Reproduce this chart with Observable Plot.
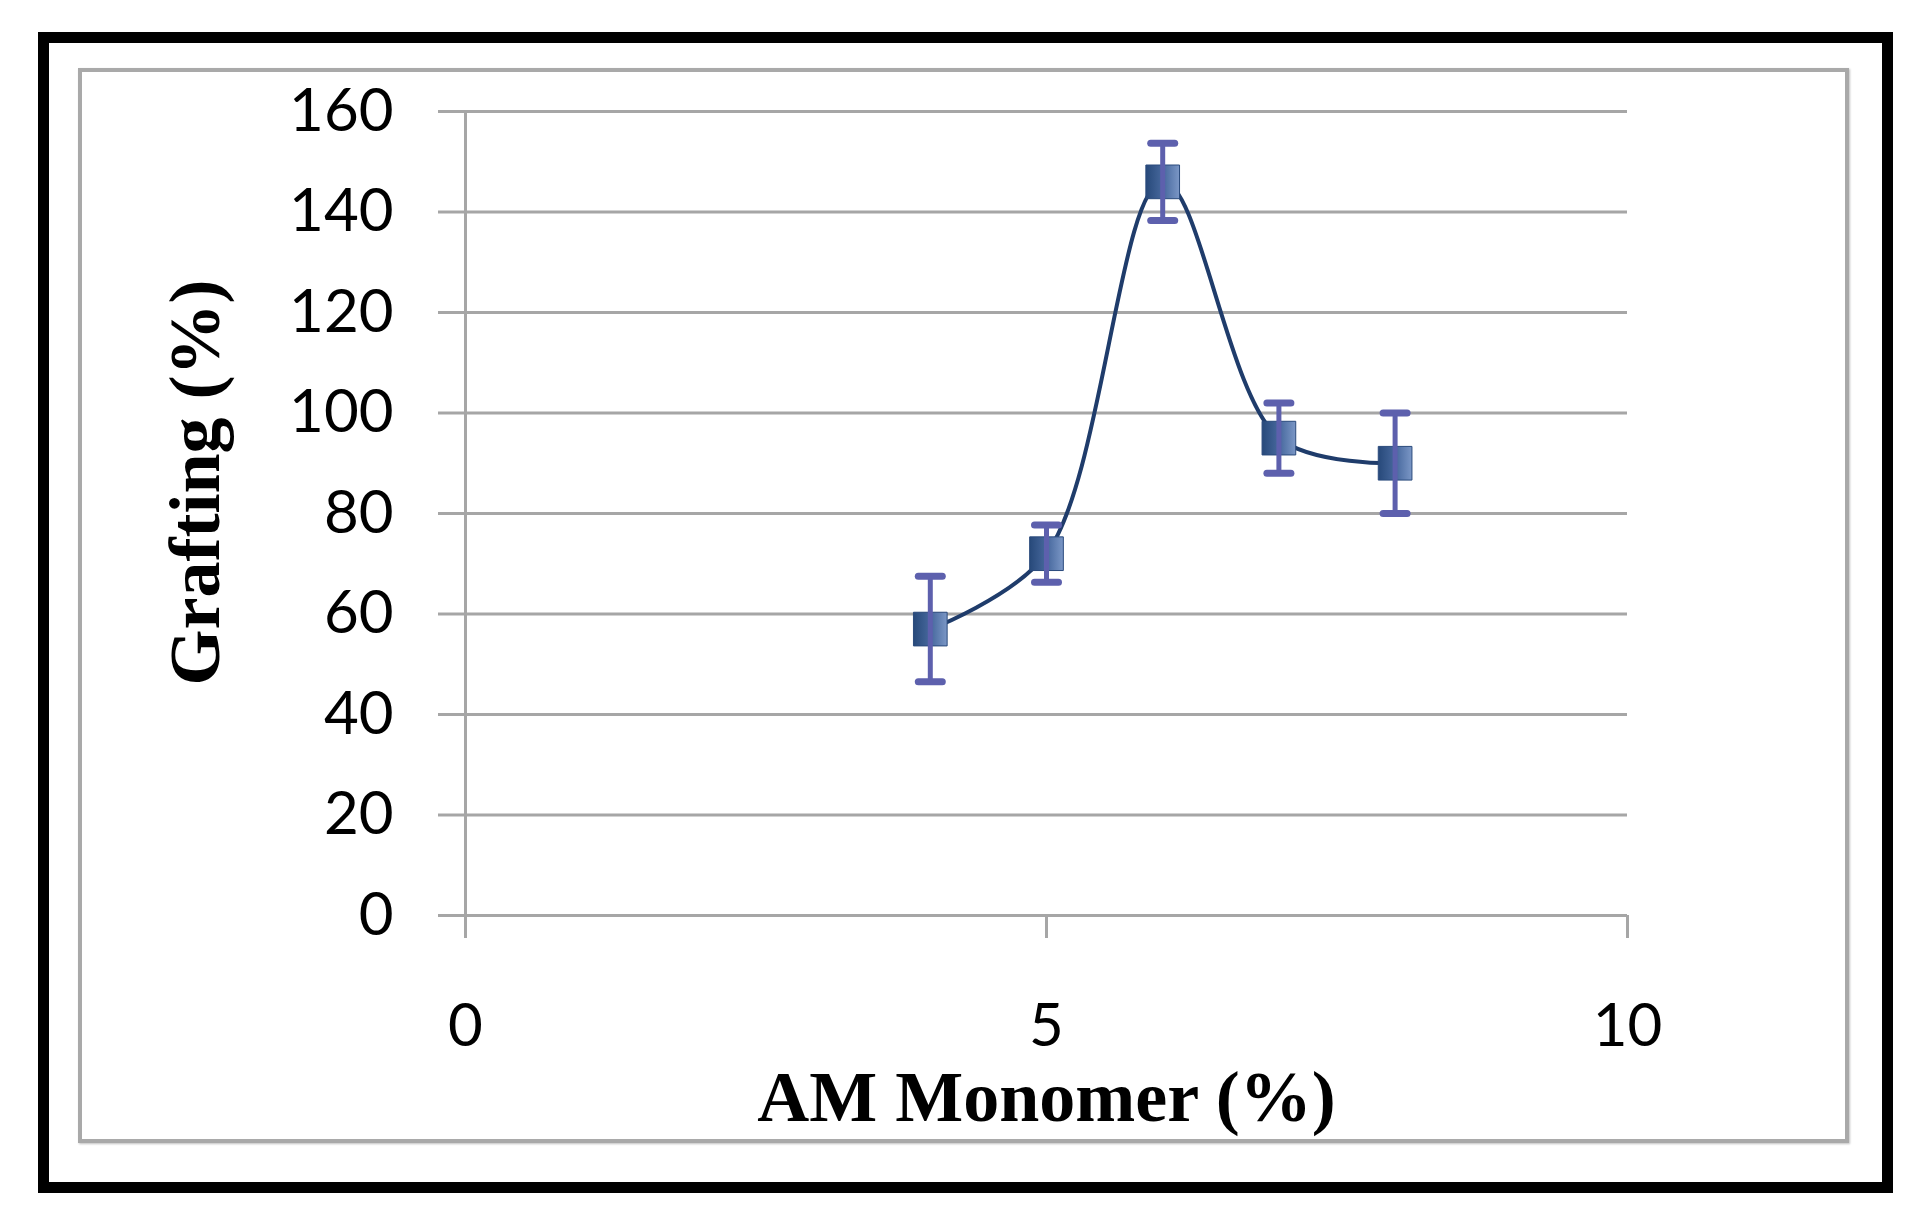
<!DOCTYPE html>
<html><head><meta charset="utf-8">
<script src="https://cdn.jsdelivr.net/npm/d3@7"></script>
<script src="https://cdn.jsdelivr.net/npm/@observablehq/plot@0.6"></script>
<style>
html,body{margin:0;padding:0;background:#fff;}
#wrap{position:relative;width:1920px;height:1224px;overflow:hidden;background:#fff;}
#outer{position:absolute;left:38px;top:32px;width:1855px;height:1161px;border:11px solid #000;box-sizing:border-box;}
#inner{position:absolute;left:78px;top:68px;width:1771px;height:1075px;border:4px solid #a9a9a9;box-sizing:border-box;box-shadow:1px 1px 2px rgba(0,0,0,0.25);}
#chart{position:absolute;left:0;top:0;}
#chart svg{display:block;background:transparent;}
</style></head>
<body><div id="wrap"><div id="outer"></div><div id="inner"></div><div id="chart"></div></div>
<script>
const monomer = [4, 5, 6, 7, 8];
const grafting = [57, 72, 146, 95, 90];
const errorBar = [10.5, 5.7, 7.7, 7, 10];
const xTicks = [0, 5, 10];
const yTicks = [0, 20, 40, 60, 80, 100, 120, 140, 160];
const xLabel = "AM Monomer (%)";
const yLabel = "Grafting (%)";

const rows = monomer.map((m, i) => ({x: m, y: grafting[i], lo: grafting[i] - errorBar[i], hi: grafting[i] + errorBar[i]}));
const cap = {draw(ctx) { ctx.moveTo(-12, 0); ctx.lineTo(12, 0); }};
const gridColor = "#a6a6a6";
const tickFont = "Lato, 'Open Sans', sans-serif";
const labelFont = "'Liberation Serif', 'DejaVu Serif', serif";

const chart = Plot.plot({
  width: 1920,
  height: 1224,
  marginLeft: 465,
  marginRight: 293,
  marginTop: 111,
  marginBottom: 309,
  style: {background: "transparent", color: "#000", overflow: "visible"},
  x: {domain: [0, 10], label: null},
  y: {domain: [0, 160], label: null},
  marks: [
    Plot.gridY(yTicks, {stroke: gridColor, strokeOpacity: 1, strokeWidth: 3}),
    Plot.ruleX([0], {stroke: gridColor, strokeWidth: 3}),
    Plot.axisY(yTicks, {tickSize: 27, tickPadding: 45, tickFormat: "d", stroke: gridColor, strokeWidth: 3, strokeOpacity: 1, fontSize: 60, fontFamily: tickFont, fill: "#000", label: null}),
    Plot.axisX(xTicks, {tickSize: 23, tickPadding: 65, tickFormat: "d", stroke: gridColor, strokeWidth: 3, strokeOpacity: 1, fontSize: 60, fontFamily: tickFont, fill: "#000", label: null}),
    Plot.line(rows, {x: "x", y: "y", curve: "catmull-rom", stroke: "#1f3c6b", strokeWidth: 4}),
    Plot.dot(rows, {x: "x", y: "y", symbol: "square", r: 19, fill: "url(#mk)", stroke: "#2a4a7c", strokeWidth: 1}),
    Plot.ruleX(rows, {x: "x", y1: "lo", y2: "hi", stroke: "#5d60ad", strokeWidth: 5}),
    Plot.dot(rows, {x: "x", y: "hi", symbol: cap, r: 5, fill: "none", stroke: "#5d60ad", strokeWidth: 7, strokeLinecap: "round"}),
    Plot.dot(rows, {x: "x", y: "lo", symbol: cap, r: 5, fill: "none", stroke: "#5d60ad", strokeWidth: 7, strokeLinecap: "round"}),
    Plot.text([xLabel], {frameAnchor: "bottom", dx: 0, dy: 182, lineAnchor: "middle", textAnchor: "middle", fontSize: 72, fontWeight: "bold", fontFamily: labelFont, fill: "#000"}),
    Plot.text([yLabel], {frameAnchor: "left", dx: -270, dy: -31, rotate: -90, lineAnchor: "middle", textAnchor: "middle", fontSize: 72, fontWeight: "bold", fontFamily: labelFont, fill: "#000"})
  ]
});

const ns = "http://www.w3.org/2000/svg";
const defs = document.createElementNS(ns, "defs");
const grad = document.createElementNS(ns, "linearGradient");
grad.setAttribute("id", "mk");
grad.setAttribute("x1", "0"); grad.setAttribute("x2", "1"); grad.setAttribute("y1", "0"); grad.setAttribute("y2", "0");
[["0%", "#27497a"], ["55%", "#4a6ba0"], ["100%", "#7b97c6"]].forEach(([o, c]) => {
  const s = document.createElementNS(ns, "stop");
  s.setAttribute("offset", o); s.setAttribute("stop-color", c);
  grad.appendChild(s);
});
defs.appendChild(grad);
chart.insertBefore(defs, chart.firstChild);
document.getElementById("chart").appendChild(chart);
</script>
</body></html>
